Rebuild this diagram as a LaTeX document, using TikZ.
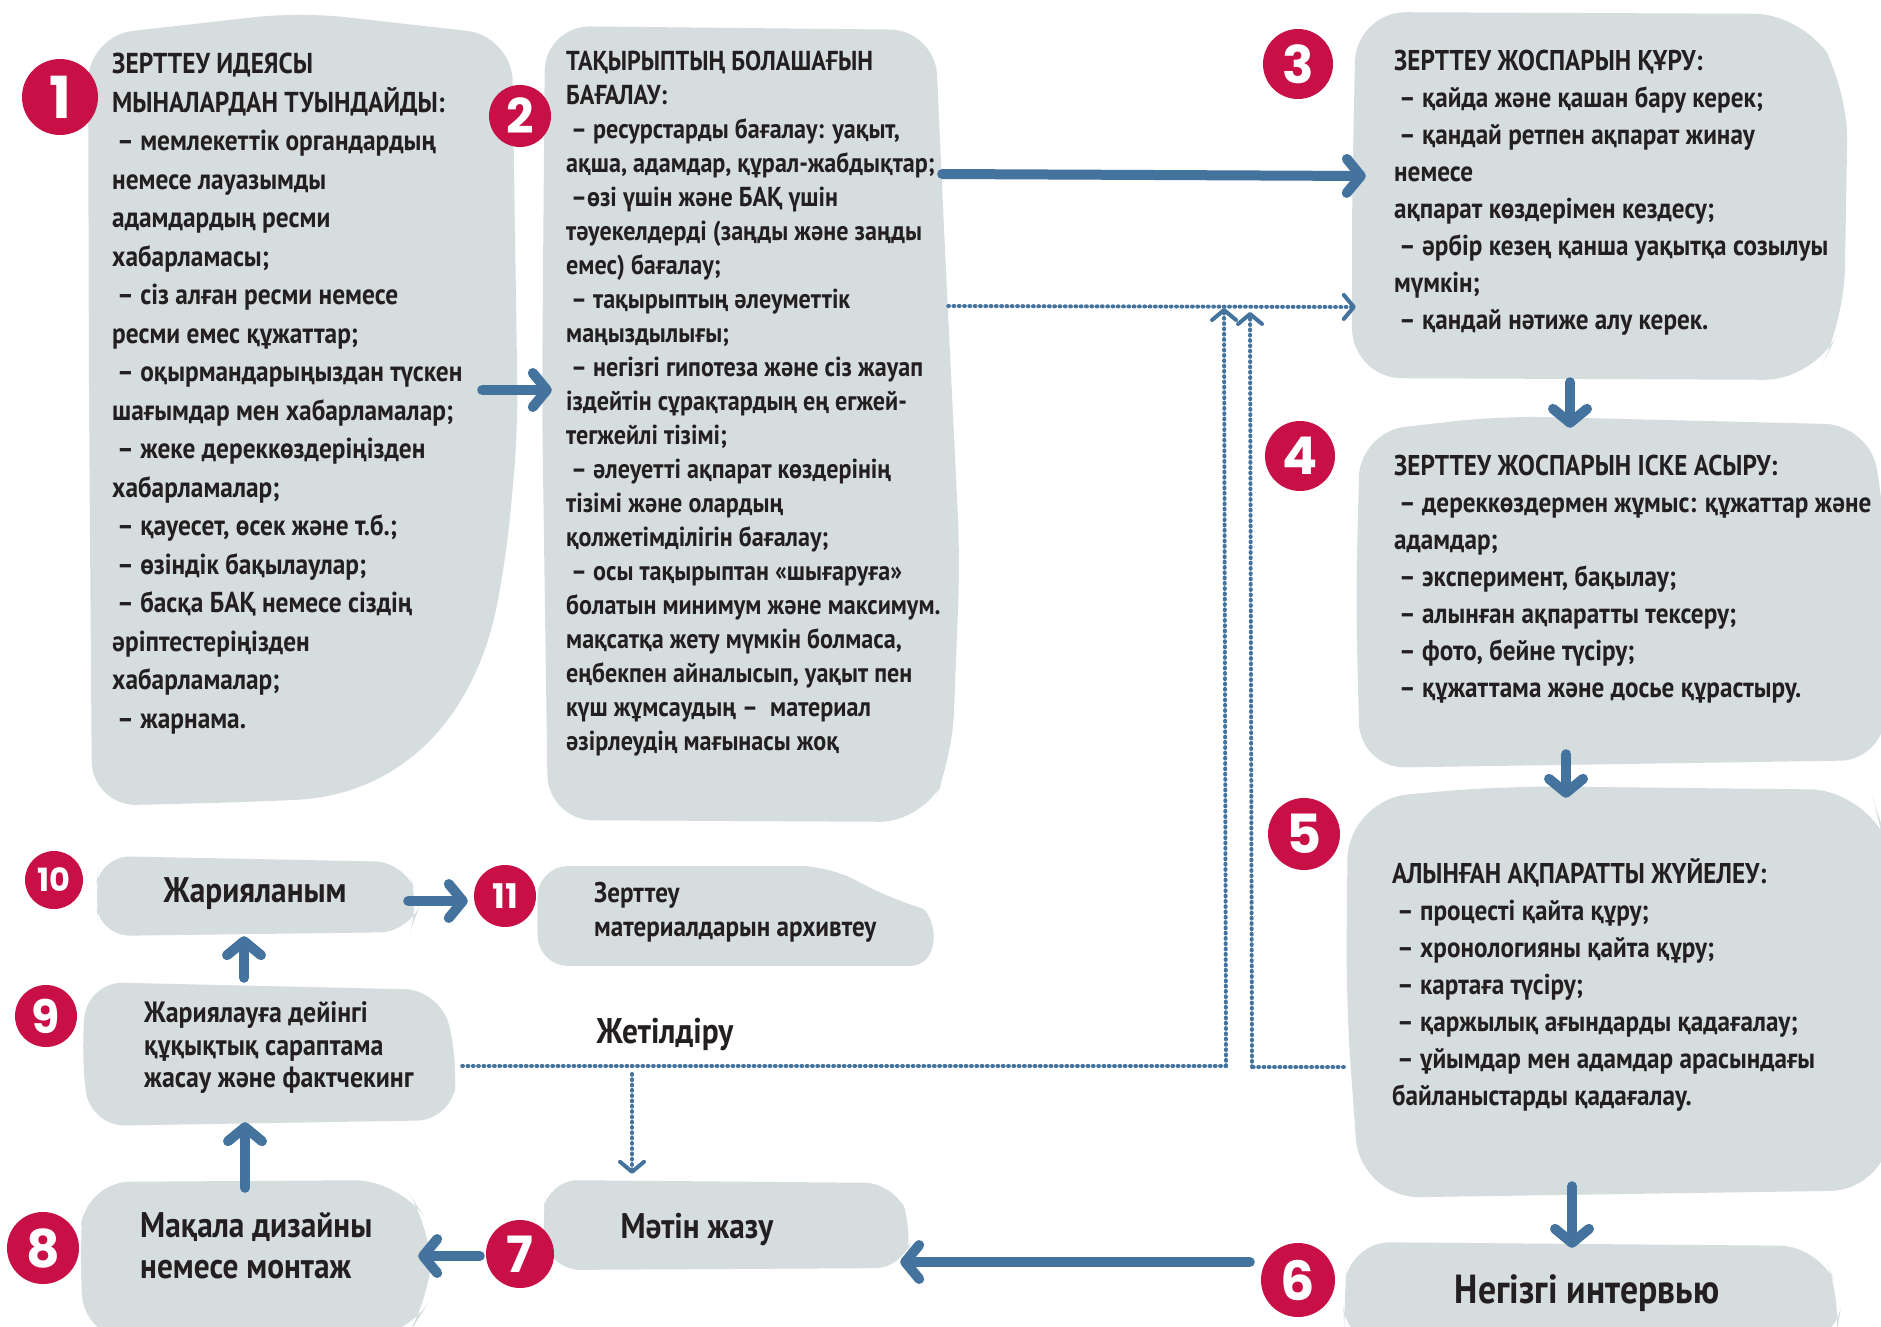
\documentclass[tikz,border=0pt]{standalone}
\usepackage{fontspec}
\setmainfont{PT Sans}
\newfontfamily\cond[FakeStretch=0.88]{PT Sans}
\newfontfamily\badgef{Poppins}
\usetikzlibrary{arrows.meta}
\definecolor{boxfill}{RGB}{214,221,222}
\definecolor{badge}{RGB}{200,16,70}
\definecolor{arrowblue}{RGB}{68,115,158}
\definecolor{ink}{RGB}{35,31,32}
\begin{document}
\begin{tikzpicture}[x=1pt,y=-1pt,
  blob/.style={fill=boxfill,draw=none},
  area/.style={inner sep=0pt,draw=none,rectangle},
  badgenode/.style={circle,fill=badge,text=white,inner sep=0pt},
  bodytext/.style={anchor=north west,inner sep=0pt,align=left,text=ink},
  labeltext/.style={inner sep=0pt,align=left,text=ink},
  arr/.style={draw=arrowblue,line width=10pt,line cap=round,-{Straight Barb[length=14pt,width=34pt,round]}},
  dotarr/.style={draw=arrowblue,line width=4pt,dash pattern=on 0.8pt off 4.5pt,line cap=round,-{Straight Barb[length=10pt,width=24pt,round,line width=4pt]}},
  dotline/.style={draw=arrowblue,line width=4pt,dash pattern=on 0.8pt off 4.5pt,line cap=round}
]
\useasboundingbox (0,0) rectangle (1881,1327);
\clip (0,0) rectangle (1881,1327);
\fill[white] (0,0) rectangle (1881,1327);

% ---------- blobs ----------
\path[blob,rounded corners=45pt] (89,400) -- (88,36) -- (300,12) -- (512,36) -- (518,430) -- (506,560)
   .. controls (474,720) and (400,795) .. (250,802) -- (92,806) -- cycle;
\path[blob,rounded corners=45pt] (542,400) -- (545,26) -- (935,30) -- (945,250) -- (960,560) -- (952,760) -- (925,822) -- (548,820) -- cycle;
\path[blob,rounded corners=50pt] (1352,200) -- (1356,12) -- (1805,14) -- (1848,90) -- (1844,320) -- (1815,380) -- (1352,378) -- cycle;
\path[blob,rounded corners=45pt] (1356,600) -- (1360,432) -- (1500,416) -- (1870,425) -- (1885,520) -- (1885,760) -- (1360,768) -- cycle;
\path[blob,rounded corners=60pt] (1346,1000) -- (1348,800) -- (1500,786) -- (1870,790) -- (1890,850) -- (1890,1190) -- (1360,1198) -- cycle;
\path[blob,rounded corners=40pt] (1343,1300) -- (1350,1242) -- (1820,1246) -- (1842,1300) -- (1835,1345) -- (1345,1345) -- cycle;
\path[blob,rounded corners=30pt] (541,1225) -- (548,1180) -- (895,1183) -- (913,1230) -- (905,1268) -- (550,1270) -- cycle;
\path[blob,rounded corners=45pt] (79,1250) -- (85,1182) -- (400,1180) -- (433,1230) -- (430,1300) -- (405,1340) -- (85,1340) -- cycle;
\path[blob,rounded corners=35pt] (81,1050) -- (88,982) -- (440,990) -- (458,1060) -- (452,1120) -- (90,1126) -- cycle;
\path[blob,rounded corners=30pt] (95,895) -- (100,856) -- (405,862) -- (420,905) -- (410,932) -- (100,936) -- cycle;
\path[blob,rounded corners=28pt] (536,915) -- (540,866) -- (828,866) -- (894,900)
   .. controls (935,912) and (945,966) .. (880,966) -- (540,966) -- cycle;

% ---------- box areas (for connectors) ----------
\node[area,minimum width=422pt,minimum height=791pt] (b1) at (299,409.5) {};
\node[area,minimum width=418pt,minimum height=802pt] (b2) at (751,421) {};
\node[area,minimum width=498pt,minimum height=370pt] (b3) at (1599,197) {};
\node[area,minimum width=527pt,minimum height=352pt] (b4) at (1617.5,590) {};
\node[area,minimum width=537pt,minimum height=410pt] (b5) at (1612.5,991) {};
\node[area,minimum width=500pt,minimum height=91pt] (b6) at (1592,1281.5) {};
\node[area,minimum width=372pt,minimum height=92pt] (b7) at (726,1224) {};
\node[area,minimum width=354pt,minimum height=151pt] (b8) at (255,1251.5) {};
\node[area,minimum width=376pt,minimum height=150pt] (b9) at (270,1053) {};
\node[area,minimum width=324pt,minimum height=82pt] (b10) at (258,895) {};
\node[area,minimum width=398pt,minimum height=104pt] (b11) at (735,914) {};

% ---------- texts ----------
\node[bodytext,font=\cond\bfseries\fontsize{28.8}{38.5}\selectfont] (t1) at (112,53) {%
ЗЕРТТЕУ ИДЕЯСЫ\\
МЫНАЛАРДАН ТУЫНДАЙДЫ:\\
\hspace{5pt}– мемлекеттік органдардың\\
немесе лауазымды\\
адамдардың ресми\\
хабарламасы;\\
\hspace{5pt}– сіз алған ресми немесе\\
ресми емес құжаттар;\\
\hspace{5pt}– оқырмандарыңыздан түскен\\
шағымдар мен хабарламалар;\\
\hspace{5pt}– жеке дереккөздеріңізден\\
хабарламалар;\\
\hspace{5pt}– қауесет, өсек және т.б.;\\
\hspace{5pt}– өзіндік бақылаулар;\\
\hspace{5pt}– басқа БАҚ немесе сіздің\\
әріптестеріңізден\\
хабарламалар;\\
\hspace{5pt}– жарнама.};

\node[bodytext,font=\cond\bfseries\fontsize{27.4}{34}\selectfont] (t2) at (566,51) {%
ТАҚЫРЫПТЫҢ БОЛАШАҒЫН\\
БАҒАЛАУ:\\
\hspace{5pt}– ресурстарды бағалау: уақыт,\\
ақша, адамдар, құрал-жабдықтар;\\
\hspace{5pt}–өзі үшін және БАҚ үшін\\
тәуекелдерді (заңды және заңды\\
емес) бағалау;\\
\hspace{5pt}– тақырыптың әлеуметтік\\
маңыздылығы;\\
\hspace{5pt}– негізгі гипотеза және сіз жауап\\
іздейтін сұрақтардың ең егжей-\\
тегжейлі тізімі;\\
\hspace{5pt}– әлеуетті ақпарат көздерінің\\
тізімі және олардың\\
қолжетімділігін бағалау;\\
\hspace{5pt}– осы тақырыптан «шығаруға»\\
болатын минимум және максимум.\\
мақсатқа жету мүмкін болмаса,\\
еңбекпен айналысып, уақыт пен\\
күш жұмсаудың –\ \ материал\\
әзірлеудің мағынасы жоқ};

\node[bodytext,font=\cond\bfseries\fontsize{28.6}{37}\selectfont] (t3) at (1394,50) {%
ЗЕРТТЕУ ЖОСПАРЫН ҚҰРУ:\\
\hspace{5pt}– қайда және қашан бару керек;\\
\hspace{5pt}– қандай ретпен ақпарат жинау\\
немесе\\
ақпарат көздерімен кездесу;\\
\hspace{5pt}– әрбір кезең қанша уақытқа созылуы\\
мүмкін;\\
\hspace{5pt}– қандай нәтиже алу керек.};

\node[bodytext,font=\cond\bfseries\fontsize{28.6}{37}\selectfont] (t4) at (1394,455) {%
ЗЕРТТЕУ ЖОСПАРЫН ІСКЕ АСЫРУ:\\
\hspace{5pt}– дереккөздермен жұмыс: құжаттар және\\
адамдар;\\
\hspace{5pt}– эксперимент, бақылау;\\
\hspace{5pt}– алынған ақпаратты тексеру;\\
\hspace{5pt}– фото, бейне түсіру;\\
\hspace{5pt}– құжаттама және досье құрастыру.};

\node[bodytext,font=\cond\bfseries\fontsize{28.6}{37}\selectfont] (t5) at (1392,858) {%
АЛЫНҒАН АҚПАРАТТЫ ЖҮЙЕЛЕУ:\\
\hspace{5pt}– процесті қайта құру;\\
\hspace{5pt}– хронологияны қайта құру;\\
\hspace{5pt}– картаға түсіру;\\
\hspace{5pt}– қаржылық ағындарды қадағалау;\\
\hspace{5pt}– ұйымдар мен адамдар арасындағы\\
байланыстарды қадағалау.};

\node[labeltext,font=\cond\bfseries\fontsize{40.6}{44}\selectfont] (t6) at (1587,1293) {Негізгі интервью};
\node[labeltext,font=\cond\bfseries\fontsize{35.6}{40}\selectfont] (t7) at (697,1229) {Мәтін жазу};
\node[labeltext,anchor=west,font=\cond\bfseries\fontsize{35.6}{41}\selectfont] (t8) at (140,1246) {Мақала дизайны\\немесе монтаж};
\node[labeltext,anchor=west,font=\cond\bfseries\fontsize{29.4}{32.5}\selectfont] (t9) at (144,1048) {Жариялауға дейінгі\\құқықтық сараптама\\жасау және фактчекинг};
\node[labeltext,font=\cond\bfseries\fontsize{35.6}{40}\selectfont] (t10) at (255,894) {Жарияланым};
\node[labeltext,anchor=west,font=\cond\bfseries\fontsize{28.5}{34}\selectfont] (t11) at (594,912) {Зерттеу\\материалдарын архивтеу};
\node[labeltext,font=\cond\bfseries\fontsize{35.6}{40}\selectfont] (lbl) at (665,1034) {Жетілдіру};

% ---------- connectors ----------
\draw[arr] ([shift={(-28,-19.5)}]b1.east) -- ([shift={(10,-31)}]b2.west);
\draw[arr] ([shift={(-18,-247)}]b2.east) -- ([shift={(16,-21)}]b3.west);
\draw[arr] ([shift={(-29,0)}]b3.south) -- ([shift={(-47.5,14)}]b4.north);
\draw[arr] ([shift={(-51.5,-12)}]b4.south) -- ([shift={(-46.5,12)}]b5.north);
\draw[arr] ([shift={(-40.5,-10)}]b5.south) -- ([shift={(-20,12)}]b6.north);
\draw[arr] ([shift={(-92,-19.5)}]b6.west) -- ([shift={(-12,38)}]b7.east);
\draw[arr] ([shift={(-60,32)}]b7.west) -- ([shift={(-14,4.5)}]b8.east);
\draw[arr] ([shift={(-10,12)}]b8.north) -- ([shift={(-25,-6)}]b9.south);
\draw[arr] ([shift={(-26,0)}]b9.north) -- ([shift={(-14,0)}]b10.south);
\draw[arr] ([shift={(-12,6)}]b10.east) -- ([shift={(-68,-13)}]b11.west);

\coordinate (m1) at (1226,1066);
\coordinate (m1top) at (1224,308);
\coordinate (m2) at (1252,1067);
\coordinate (m2top) at (1250,312);
\coordinate (m3) at (632,1074);
\draw[dotarr] ([shift={(-12,-115)}]b2.east) -- ([shift={(6,110)}]b3.west);
\draw[dotline] ([shift={(4,13)}]b9.east) -- (m1);
\draw[dotarr] (m1) -- (m1top);
\draw[dotline] ([shift={(0,76)}]b5.west) -- (m2);
\draw[dotarr] (m2) -- (m2top);
\draw[dotarr] (m3) -- ([shift={(-94,-4)}]b7.north);

% ---------- badges ----------
\node[badgenode,minimum size=76pt,font=\badgef\bfseries\fontsize{58}{58}\selectfont] (n1) at (60,97) {1};
\node[badgenode,minimum size=62pt,font=\badgef\bfseries\fontsize{48}{48}\selectfont] (n2) at (520,116) {2};
\node[badgenode,minimum size=70pt,font=\badgef\bfseries\fontsize{52}{52}\selectfont] (n3) at (1298,64) {3};
\node[badgenode,minimum size=70pt,font=\badgef\bfseries\fontsize{52}{52}\selectfont] (n4) at (1300,456) {4};
\node[badgenode,minimum size=72pt,font=\badgef\bfseries\fontsize{54}{54}\selectfont] (n5) at (1304,834) {5};
\node[badgenode,minimum size=74pt,font=\badgef\bfseries\fontsize{54}{54}\selectfont] (n6) at (1298,1280) {6};
\node[badgenode,minimum size=68pt,font=\badgef\bfseries\fontsize{50}{50}\selectfont] (n7) at (520,1254) {7};
\node[badgenode,minimum size=72pt,font=\badgef\bfseries\fontsize{52}{52}\selectfont] (n8) at (43,1248) {8};
\node[badgenode,minimum size=62pt,font=\badgef\bfseries\fontsize{46}{46}\selectfont] (n9) at (46,1016) {9};
\node[badgenode,minimum size=58pt,font=\badgef\bfseries\fontsize{32}{32}\selectfont] (n10) at (54,880) {10};
\node[badgenode,minimum size=62pt,font=\badgef\bfseries\fontsize{34}{34}\selectfont] (n11) at (505,896) {11};
\end{tikzpicture}
\end{document}
